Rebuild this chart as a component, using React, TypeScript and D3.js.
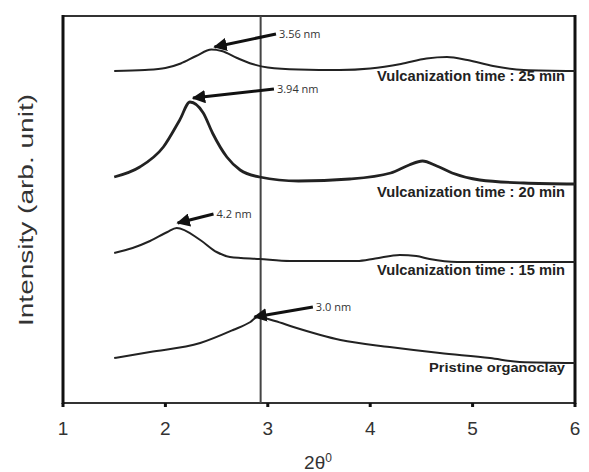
import React from "react";
import * as d3 from "d3";

const W = 589;
const H = 472;

// 2θ (deg) vs intensity (arb. unit, height above axis)
const curve25: [number, number][] = [
  [1.5, 332], [1.8, 333], [2.0, 335], [2.15, 339.5], [2.3, 347], [2.45, 353.5], [2.55, 352],
  [2.7, 345], [2.85, 339], [3.0, 335.5], [3.3, 333.5], [3.7, 333], [4.0, 334.5], [4.3, 339],
  [4.55, 344.5], [4.75, 346], [4.95, 343], [5.2, 337], [5.5, 333], [6.0, 332],
];
const curve20: [number, number][] = [
  [1.5, 226], [1.75, 236], [1.98, 256], [2.14, 283], [2.24, 301], [2.37, 290], [2.46, 270],
  [2.6, 246], [2.73, 233], [2.92, 226], [3.3, 222], [3.8, 224], [4.2, 230], [4.38, 238],
  [4.51, 242], [4.65, 237], [4.8, 230], [5.07, 223], [5.5, 220], [6.0, 219],
];
const curve15: [number, number][] = [
  [1.5, 150], [1.68, 155], [1.85, 162], [2.02, 171], [2.11, 175], [2.34, 163], [2.5, 151],
  [2.63, 146], [2.92, 144], [3.22, 142], [3.87, 142], [4.05, 144.5], [4.29, 148], [4.45, 147],
  [4.58, 144], [4.85, 141], [6.0, 141],
];
const curvePristine: [number, number][] = [
  [1.5, 45], [1.85, 51], [2.34, 60], [2.66, 73], [2.83, 81], [2.9, 86], [3.07, 82],
  [3.25, 76], [3.71, 63], [4.19, 56], [4.68, 50], [5.17, 45], [5.46, 41], [6.0, 40],
];

const curveLabels = [
  "Vulcanization time : 25 min",
  "Vulcanization time : 20 min",
  "Vulcanization time : 15 min",
  "Pristine organoclay",
];
const curveLabelY = [322, 206, 128, 31];
const curveWidths = [2, 2.8, 2, 2];

// annotations: text, head (peak) point, tail point
const annTexts = ["3.56 nm", "3.94 nm", "4.2 nm", "3.0 nm"];
const annHead: [number, number][] = [[2.48, 356], [2.27, 305], [2.12, 180], [2.87, 86]];
const annTail: [number, number][] = [[3.08, 369], [3.06, 314], [2.47, 189], [3.44, 96]];

const xTicks = [1, 2, 3, 4, 5, 6];
const refLineX = 2.93;

export default function App() {
  const left = 63, right = 575, top = 16, bottom = 403;
  const x = d3.scaleLinear().domain([1, 6]).range([left, right]);
  const y = d3.scaleLinear().domain([0, 387]).range([bottom, top]);
  const line = d3
    .line<[number, number]>()
    .x((d) => x(d[0]))
    .y((d) => y(d[1]))
    .curve(d3.curveMonotoneX);
  const curves = [curve25, curve20, curve15, curvePristine];

  return (
    <svg width={W} height={H} style={{ position: "absolute", left: 0, top: 0, background: "#fff" }}>
      <defs>
        <marker id="ah" viewBox="0 0 10 10" refX="9" refY="5" markerWidth="4.5" markerHeight="4.5" orient="auto" markerUnits="strokeWidth">
          <path d="M0,0 L10,5 L0,10 z" fill="#111" />
        </marker>
      </defs>
      {/* frame */}
      <line x1={left} y1={top} x2={right} y2={top} stroke="#333" strokeWidth={2} />
      <line x1={left} y1={bottom} x2={right} y2={bottom} stroke="#333" strokeWidth={2} />
      <line x1={left} y1={top - 1} x2={left} y2={bottom + 1} stroke="#111" strokeWidth={3} />
      <line x1={right} y1={top - 1} x2={right} y2={bottom + 1} stroke="#111" strokeWidth={3} />
      {xTicks.map((t) => (
        <g key={t}>
          <line x1={x(t)} x2={x(t)} y1={bottom} y2={bottom + 4} stroke="#111" strokeWidth={3} />
          <text x={x(t)} y={435} textAnchor="middle" fontFamily="Liberation Sans, Arial, sans-serif" fontSize={19} fill="#333">
            {t}
          </text>
        </g>
      ))}
      {/* vertical reference line */}
      <line x1={x(refLineX)} x2={x(refLineX)} y1={top} y2={bottom} stroke="#444" strokeWidth={2} />
      {/* curves */}
      {curves.map((c, i) => (
        <path key={i} d={line(c) || ""} fill="none" stroke="#222" strokeWidth={curveWidths[i]} />
      ))}
      {/* curve labels */}
      {curveLabels.map((s, i) => (
        <text
          key={s}
          x={565}
          y={y(curveLabelY[i])}
          textAnchor="end"
          fontFamily="Liberation Sans, Arial, sans-serif"
          fontWeight="bold"
          fontSize={i === 3 ? 13 : 14}
          fill="#222"
          textLength={i === 3 ? 136 : 188}
          lengthAdjust="spacingAndGlyphs"
        >
          {s}
        </text>
      ))}
      {/* annotations */}
      {annTexts.map((s, i) => (
        <g key={s}>
          <line
            x1={x(annTail[i][0])}
            y1={y(annTail[i][1])}
            x2={x(annHead[i][0])}
            y2={y(annHead[i][1])}
            stroke="#111"
            strokeWidth={3}
            markerEnd="url(#ah)"
          />
          <text
            x={x(annTail[i][0]) + 3}
            y={y(annTail[i][1]) + 4}
            fontFamily="Open Sans, DejaVu Sans, sans-serif"
            fontSize={11}
            fill="#333"
          >
            {s}
          </text>
        </g>
      ))}
      {/* axis titles */}
      <text
        transform={`translate(33, 210) rotate(-90)`}
        textAnchor="middle"
        fontFamily="Liberation Sans, Arial, sans-serif"
        fontSize={20}
        fill="#333"
        textLength={232}
        lengthAdjust="spacingAndGlyphs"
      >
        Intensity (arb. unit)
      </text>
      <text x={318} y={469} textAnchor="middle" fontFamily="Liberation Sans, Arial, sans-serif" fontSize={19} fill="#333">
        2θ<tspan dy={-7} fontSize={12}>0</tspan>
      </text>
    </svg>
  );
}
